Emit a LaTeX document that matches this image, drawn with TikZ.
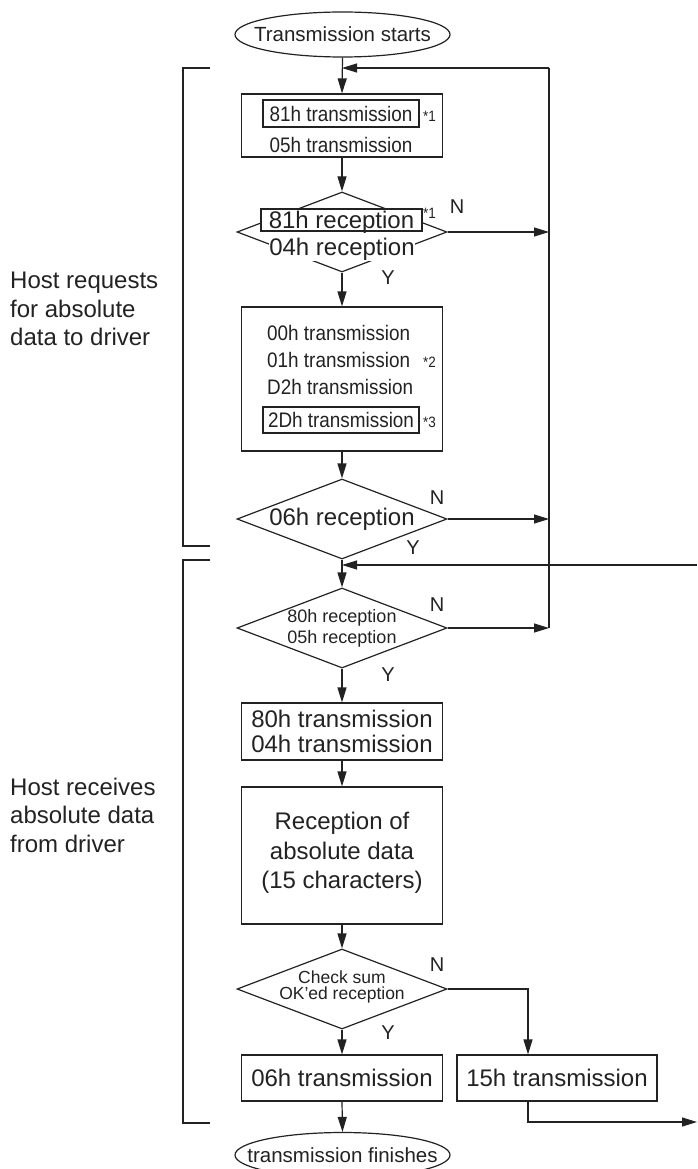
\documentclass[tikz,border=0pt]{standalone}
\usepackage{fontspec}
\setmainfont{Liberation Sans}
\newfontfamily\narrowfont[FakeStretch=0.9]{Liberation Sans}
\usetikzlibrary{shapes.geometric, arrows.meta}
\definecolor{ink}{HTML}{222222}

\tikzset{
  flow/.style={draw=ink, line width=1.2pt},
  arr/.style={flow, -{Triangle[length=15pt,width=9pt]}},
  proc/.style={draw=ink, line width=1.2pt, rectangle, inner sep=0pt, minimum width=201pt},
  decision/.style={draw=ink, line width=1.2pt, diamond, inner sep=0pt, minimum width=210pt, minimum height=80pt},
  terminal/.style={draw=ink, line width=1.2pt, ellipse, inner sep=0pt, minimum width=215pt, minimum height=45pt},
  big/.style={font=\fontsize{24}{28.5}\selectfont, text=ink, inner sep=0pt},
  mid/.style={font=\fontsize{20.5}{24}\selectfont, text=ink, inner sep=0pt},
  small/.style={font=\fontsize{18}{21}\selectfont, text=ink, inner sep=0pt},
  slim/.style={font=\narrowfont\fontsize{21}{25}\selectfont, text=ink, inner sep=0pt},
  note/.style={font=\narrowfont\fontsize{15}{15}\selectfont, text=ink, inner sep=0pt, anchor=west},
  yn/.style={font=\fontsize{20}{20}\selectfont, text=ink, inner sep=0pt},
}

\begin{document}
\begin{tikzpicture}[x=1pt, y=-1pt]
  \useasboundingbox (0,0) rectangle (697,1169);

  % terminals
  \node[terminal] (start) at (342.5,34.5) {};
  \node[mid] (startlbl) at (start) {Transmission starts};
  \node[terminal] (finish) at (342.5,1155) {};
  \node[mid] (finishlbl) at (finish) {transmission finishes};

  % request part
  \node[proc, minimum height=63pt] (send81) at (342,125.5) {};
  \node[slim, draw=ink, line width=1.2pt, fill=white, minimum width=156pt, minimum height=27pt] (t81) at (341,113.5) {81h transmission};
  \node[note] (n1a) at (423,116) {*1};
  \node[slim] (t05) at (341,145) {05h transmission};

  \node[decision] (ack81) at (342,232) {};
  \node[big, draw=ink, line width=1.2pt, fill=white, inner xsep=7.8pt, text height=19pt, text depth=3pt] (r81) at (341.5,220) {81h reception};
  \node[note] (n1b) at (423,213) {*1};
  \node[big, fill=white] (r04) at (342,249.5) {04h reception};

  \node[proc, minimum height=144pt] (sendcmd) at (342,379) {};
  \node[slim, anchor=west] (t00) at (267,333) {00h transmission};
  \node[slim, anchor=west] (t01) at (267,360) {01h transmission};
  \node[note] (n2) at (423,362) {*2};
  \node[slim, anchor=west] (td2) at (267,387) {D2h transmission};
  \node[slim, draw=ink, line width=1.2pt, minimum width=156pt, minimum height=26pt] (t2d) at (341,420) {2Dh transmission};
  \node[note] (n3) at (423,422) {*3};

  \node[decision] (ack06) at (342,519) {};
  \node[big] (r06) at (ack06) {06h reception};

  % receive part
  \node[decision] (ack80) at (342,628) {};
  \node[small, align=center] (r80) at (342,628.5) {80h reception\\05h reception};

  \node[proc, minimum height=57pt] (send80) at (342,731.5) {};
  \node[big, align=center, font=\fontsize{24}{25}\selectfont] (t80) at (send80) {80h transmission\\04h transmission};

  \node[proc, minimum height=137pt] (recv) at (342,855.5) {};
  \node[big, align=center, font=\fontsize{24}{29.5}\selectfont] (recvlbl) at (342,853) {Reception of\\absolute data\\(15 characters)};

  \node[decision] (chk) at (342,989) {};
  \node[small, align=center, font=\fontsize{17.5}{16}\selectfont] (chklbl) at (342,987) {Check sum\\OK'ed reception};

  \node[proc, minimum height=46pt] (send06) at (342,1078) {};
  \node[big] (t06) at (send06) {06h transmission};
  \node[proc, minimum height=46pt, minimum width=200pt] (send15) at (557,1078) {};
  \node[big] (t15) at (send15) {15h transmission};

  % Y / N
  \node[yn] (n-a) at (457,207) {N};
  \node[yn] (y-a) at (388,278) {Y};
  \node[yn] (n-b) at (437,498) {N};
  \node[yn] (y-b) at (413,548) {Y};
  \node[yn] (n-c) at (437,605) {N};
  \node[yn] (y-c) at (388,675) {Y};
  \node[yn] (n-d) at (437,965) {N};
  \node[yn] (y-d) at (388,1033) {Y};

  % side notes
  \node[big, align=left, anchor=west] (part1) at (10,309) {Host requests\\for absolute\\data to driver};
  \node[big, align=left, anchor=west] (part2) at (10,815) {Host receives\\absolute data\\from driver};
  \draw[flow] (210,68) -- (183,68) -- (183,546) -- (210,546);
  \draw[flow] (210,560) -- (183,560) -- (183,1123) -- (210,1123);

  % connectors
  \coordinate (railtop) at (549,68);
  \coordinate (railbot) at (549,628);
  \coordinate (join1) at (342,68);
  \coordinate (join2) at (342,565);
  \coordinate (retin) at (697,565);
  \coordinate (retout) at (697,1122);

  \draw[arr] (start.south) -- (send81.north);
  \draw[arr] (send81.south) -- (ack81.north);
  \draw[arr] (ack81.south) -- (sendcmd.north);
  \draw[arr] (sendcmd.south) -- (ack06.north);
  \draw[arr] (ack06.south) -- (ack80.north);
  \draw[arr] (ack80.south) -- (send80.north);
  \draw[arr] (send80.south) -- (recv.north);
  \draw[arr] (recv.south) -- (chk.north);
  \draw[arr] (chk.south) -- (send06.north);
  \draw[arr] (send06.south) -- (finish.north);

  \draw[arr] (ack81.east) -- (ack81.east -| railtop);
  \draw[arr] (ack06.east) -- (ack06.east -| railtop);
  \draw[arr] (ack80.east) -- (railbot);
  \draw[flow] (railbot) -- (railtop);
  \draw[arr] (railtop) -- (join1);
  \draw[arr] (retin) -- (join2);

  \draw[arr] (chk.east) -| ([xshift=-29pt]send15.north);
  \draw[arr] ([xshift=-29pt]send15.south) |- (retout);
\end{tikzpicture}
\end{document}
